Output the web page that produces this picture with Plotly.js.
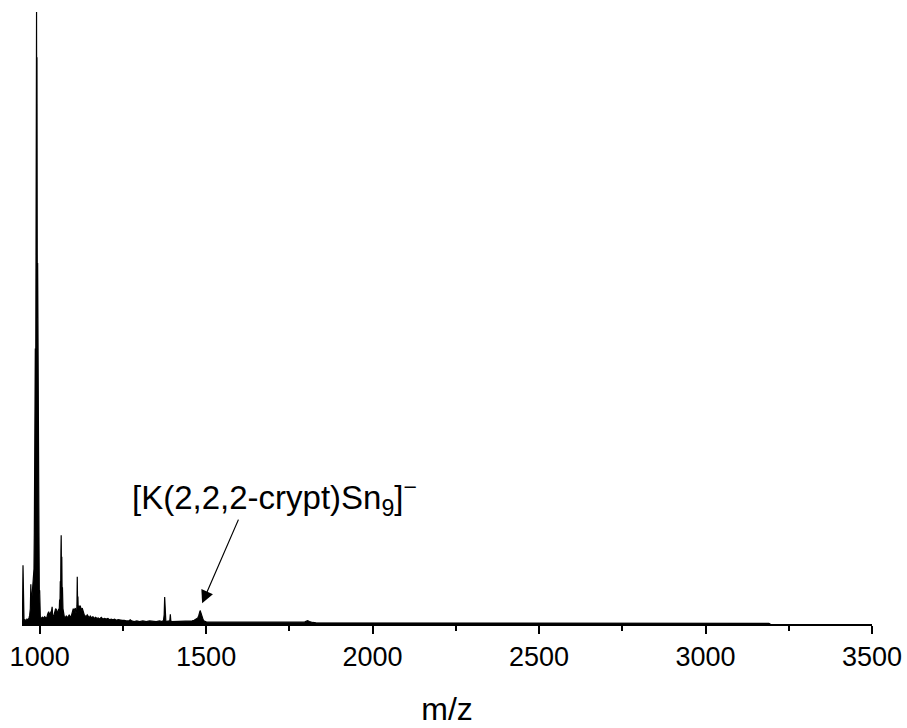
<!DOCTYPE html>
<html>
<head>
<meta charset="utf-8">
<script src="https://cdn.plot.ly/plotly-3.0.1.min.js"></script>
<style>html,body{margin:0;padding:0;background:#fff;}#chart{width:907px;height:728px;}</style>
</head>
<body>
<div id="chart"></div>
<script>
// m/z values of the spectrum
const mz = [
  947, 948.5, 950, 951.5, 953, 956, 959, 962, 965, 968, 970, 972, 973.5, 975, 977, 979,
  981, 983, 984, 985, 986, 987, 988, 989, 990, 990.7, 991.4, 992, 993, 994, 995, 996, 997, 998, 999, 1000,
  1002, 1004, 1006, 1009, 1012, 1015, 1018, 1021, 1024, 1027, 1030, 1033, 1036, 1037.5, 1039, 1042, 1045,
  1048, 1051, 1054, 1057, 1059, 1060, 1061, 1062, 1063, 1064, 1064.7, 1065.5, 1066.5, 1067.5, 1068.5, 1070, 1072,
  1074, 1077, 1080, 1083, 1086, 1089, 1092, 1095, 1098, 1101, 1104, 1107, 1109, 1111, 1112, 1113, 1114, 1115,
  1116, 1118, 1120, 1122, 1125, 1128, 1131, 1134, 1137, 1140, 1143, 1146, 1149, 1152, 1156, 1160, 1164, 1168,
  1172, 1176, 1180, 1185, 1190, 1195, 1200, 1205, 1210, 1215, 1220, 1225, 1230, 1236, 1242, 1248, 1254, 1260,
  1268, 1272, 1276, 1284, 1292, 1300, 1310, 1320, 1330, 1340, 1350, 1360, 1368, 1372, 1374, 1375.5, 1377, 1379,
  1382, 1386, 1389, 1391, 1392.5, 1394, 1397, 1402, 1410, 1420, 1430, 1440, 1450, 1458, 1464, 1468, 1472, 1475,
  1478, 1480, 1482, 1484, 1486, 1488, 1491, 1494, 1497, 1500, 1505, 1510, 1520, 1530, 1545, 1560, 1580, 1600,
  1620, 1640, 1660, 1680, 1700, 1720, 1740, 1760, 1780, 1795, 1800, 1805, 1810, 1815, 1820, 1830, 1845, 1860,
  1880, 1900, 1950, 2000, 2050, 2100, 2150, 2200, 2250, 2300, 2350, 2400, 2450, 2500, 2550, 2600, 2650, 2700,
  2750, 2800, 2850, 2900, 2950, 3000, 3050, 3100, 3150, 3190, 3195
];
// relative intensity (%) at each m/z
const intensity = [
  0.5, 1.5, 9.6, 1.5, 0.6, 0.7, 0.5, 0.8, 0.6, 1.0, 1.4, 2.5, 6.5, 3.0, 4.5, 5.0,
  6.0, 9.0, 15, 30, 20, 45, 35, 72, 60, 100, 62, 92.6, 50, 59, 35, 36, 18, 14, 5, 5.5,
  1.2, 1.0, 0.9, 1.1, 0.9, 1.2, 1.0, 0.9, 1.6, 2.0, 1.5, 1.8, 2.2, 2.8, 1.4, 1.2, 2.0,
  2.5, 2.3, 1.6, 2.4, 2.5, 4.0, 3.0, 7.0, 5.0, 12, 14.5, 9.0, 11, 5.0, 6.0, 2.5, 1.5,
  1.2, 1.0, 1.3, 1.1, 1.2, 1.5, 1.1, 1.3, 1.8, 2.5, 2.2, 2.6, 1.8, 2.0, 3.0, 7.7, 3.0, 4.5,
  2.0, 3.0, 2.4, 3.0, 2.2, 2.6, 1.8, 1.5, 1.3, 1.2, 1.5, 1.1, 1.0, 1.3, 1.0, 1.2, 0.9, 1.1,
  0.9, 1.0, 0.8, 1.1, 0.8, 0.9, 0.8, 0.9, 0.7, 0.8, 0.7, 0.8, 0.6, 0.7, 0.6, 0.6, 0.6, 0.5,
  0.5, 0.7, 0.5, 0.4, 0.5, 0.4, 0.5, 0.4, 0.5, 0.4, 0.4, 0.5, 0.4, 0.6, 1.5, 4.4, 1.2, 0.5,
  0.4, 0.5, 0.4, 0.6, 1.6, 0.5, 0.4, 0.4, 0.5, 0.4, 0.4, 0.5, 0.4, 0.5, 0.6, 0.7, 0.8, 1.0,
  1.4, 1.8, 2.2, 1.9, 1.4, 1.0, 0.7, 0.5, 0.4, 0.35, 0.3, 0.3, 0.25, 0.3, 0.25, 0.3, 0.25, 0.2,
  0.25, 0.2, 0.25, 0.2, 0.2, 0.2, 0.25, 0.2, 0.2, 0.3, 0.45, 0.55, 0.4, 0.3, 0.25, 0.2, 0.2, 0.15,
  0.15, 0.15, 0.15, 0.15, 0.15, 0.15, 0.15, 0.15, 0.15, 0.15, 0.15, 0.15, 0.15, 0.15, 0.15, 0.15, 0.15, 0.15,
  0.15, 0.15, 0.15, 0.15, 0.15, 0.15, 0.12, 0.12, 0.12, 0.1, 0.0
];
const tickVals = [1000, 1500, 2000, 2500, 3000, 3500];
const tickText = ["1000", "1500", "2000", "2500", "3000", "3500"];
const xTitle = "m/z";
const label = "[K(2,2,2-crypt)Sn<sub>9</sub>]<sup>\u2212</sup>";
// annotation anchor points in data units
const labelPos = {x: 1704, y: 20.7};
const arrowTip = {x: 1488, y: 3.4};
const arrowTail = {x: 1599, y: 17.3};

const font = "Liberation Sans, Arial, sans-serif";

const trace = {
  x: mz, y: intensity, type: "scatter", mode: "lines",
  line: {color: "#000", width: 1.2},
  fill: "tozeroy", fillcolor: "#000",
  hoverinfo: "skip"
};

const layout = {
  width: 907, height: 728,
  margin: {l: 22, r: 35, t: 12, b: 104},
  paper_bgcolor: "#fff", plot_bgcolor: "#fff",
  showlegend: false,
  font: {family: font, color: "#000"},
  xaxis: {
    range: [947, 3500],
    showgrid: false, zeroline: false,
    showline: true, linecolor: "#000", linewidth: 2,
    ticks: "outside", ticklen: 8, tickwidth: 2, tickcolor: "#000",
    tickvals: tickVals, ticktext: tickText,
    tickfont: {family: font, size: 27, color: "#000"},
    minor: {ticks: "outside", ticklen: 5, tickwidth: 2, tickcolor: "#000", dtick: 250, tick0: 1000, showgrid: false},
    title: {text: xTitle, font: {family: font, size: 32, color: "#000"}, standoff: 26}
  },
  yaxis: {
    range: [0, 100], visible: false, showgrid: false, zeroline: false
  },
  annotations: [
    {x: labelPos.x, y: labelPos.y, xref: "x", yref: "y", text: label, showarrow: false,
     xanchor: "center", yanchor: "middle", font: {family: font, size: 33, color: "#000"}},
    {x: arrowTip.x, y: arrowTip.y, xref: "x", yref: "y", text: "", showarrow: true,
     axref: "x", ayref: "y", ax: arrowTail.x, ay: arrowTail.y,
     arrowhead: 2, arrowsize: 2.1, arrowwidth: 1.2, arrowcolor: "#000", standoff: 0}
  ]
};

Plotly.newPlot("chart", [trace], layout, {displayModeBar: false, staticPlot: true});
</script>
</body>
</html>
